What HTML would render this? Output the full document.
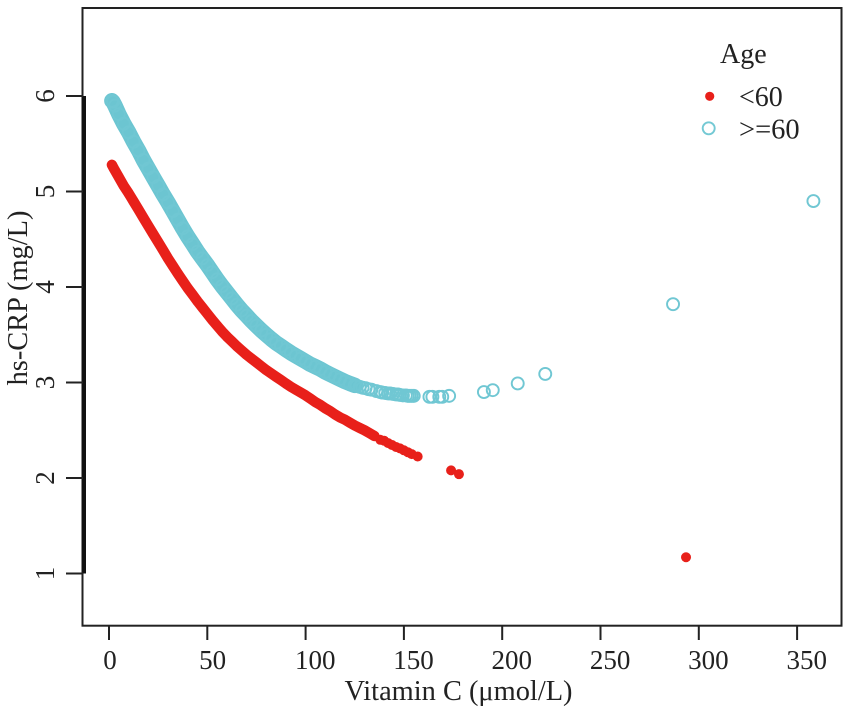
<!DOCTYPE html>
<html lang="en">
<head>
<meta charset="utf-8">
<title>hs-CRP vs Vitamin C by Age</title>
<style>
html,body{margin:0;padding:0;background:#fff;}
svg{display:block;font-family:"Liberation Serif",serif;fill:#222;}
</style>
</head>
<body>
<svg id="chart" width="850" height="714" viewBox="0 0 850 714" xmlns="http://www.w3.org/2000/svg">
  <rect x="0" y="0" width="850" height="714" fill="#fff"/>
  <g id="marks"></g>
  <rect x="82.5" y="8" width="759" height="617.7" fill="none" stroke="#222" stroke-width="2"/>
  <g id="xaxis"></g>
  <g id="yaxis"></g>
  <text x="458.5" y="700" text-anchor="middle" font-size="28.4">Vitamin C (μmol/L)</text>
  <text transform="translate(27,298) rotate(-90)" text-anchor="middle" font-size="28.4">hs-CRP (mg/L)</text>
  <g>
    <text x="720" y="63" font-size="28">Age</text>
    <circle cx="709.7" cy="96.3" r="4.6" fill="#e8201a"/>
    <text x="739" y="106" font-size="28">&lt;60</text>
    <circle cx="708.7" cy="128.3" r="6" fill="none" stroke="#74c9d4" stroke-width="1.9"/>
    <text x="739" y="138.7" font-size="28.5">&gt;=60</text>
  </g>
</svg>
<script>
const xTicks = [0, 50, 100, 150, 200, 250, 300, 350];
const yTicks = [1, 2, 3, 4, 5, 6];

const under60X = [1.5,2.5,5,7.5,10,12.5,15,17.5,20,22.5,25,27.5,30,32.5,35,37.5,40,42.5,45,47.5,50,52.5,55,57.5,60,62.5,65,67.5,70,72.5,75,77.5,80,82.5,85,87.5,90,92.5,95,97.5,100,102.5,105,107.5,110,112.5,115,117.5,120,122.5,125,127.5,130,132.5,135,138,140,142,144,146,148,150,152,154,157,174,178,293.5];
const under60Y = [5.28,5.24,5.15,5.06,4.98,4.895,4.81,4.725,4.64,4.555,4.47,4.385,4.30,4.22,4.14,4.065,3.99,3.92,3.85,3.785,3.72,3.655,3.595,3.535,3.48,3.43,3.38,3.335,3.29,3.25,3.21,3.17,3.13,3.095,3.06,3.025,2.99,2.955,2.925,2.895,2.865,2.83,2.795,2.765,2.73,2.70,2.665,2.635,2.61,2.58,2.55,2.525,2.50,2.47,2.44,2.40,2.39,2.365,2.345,2.325,2.31,2.29,2.27,2.25,2.225,2.08,2.04,1.17];

const over60X = [1.5,2,3,5,7.5,10,12.5,15,17.5,20,22.5,25,27.5,30,32.5,35,37.5,40,42.5,45,47.5,50,52.5,55,57.5,60,62.5,65,67.5,70,72.5,75,77.5,80,82.5,85,87.5,90,92.5,95,97.5,100,102.5,105,107.5,110,112.5,115,117.5,120,122.5,125,126,127.5,129,130.5,132,133.5,136,138,139,140.5,142,143,144.5,146,147,148,149.5,151,152,153,154,155,163,164.5,168,169.5,173,190.7,195.2,207.9,221.9,286.9,358.3];
const over60Y = [5.95,5.94,5.9,5.81,5.71,5.62,5.52,5.43,5.33,5.24,5.15,5.06,4.97,4.885,4.795,4.705,4.615,4.53,4.45,4.37,4.30,4.23,4.155,4.08,4.01,3.945,3.88,3.815,3.755,3.70,3.645,3.595,3.545,3.50,3.455,3.415,3.38,3.345,3.31,3.28,3.25,3.22,3.19,3.165,3.14,3.11,3.085,3.06,3.035,3.01,2.99,2.97,2.965,2.955,2.945,2.94,2.93,2.925,2.91,2.90,2.895,2.89,2.885,2.885,2.88,2.875,2.875,2.87,2.865,2.865,2.86,2.86,2.86,2.86,2.85,2.85,2.85,2.85,2.86,2.90,2.92,2.99,3.09,3.82,4.90];

const NS = 'http://www.w3.org/2000/svg';
const xScale = v => 109 + 1.966 * v;
const yScale = v => 573.5 - (v - 1) * 95.5;

function make(tag, attrs, parent) {
  const el = document.createElementNS(NS, tag);
  for (const k in attrs) el.setAttribute(k, attrs[k]);
  parent.appendChild(el);
  return el;
}

const marks = document.getElementById('marks');
const xAxis = document.getElementById('xaxis');
const yAxis = document.getElementById('yaxis');

// dense stretches of overlapping points read as a solid band
function drawBand(xs, ys, end, color, width, label) {
  const pts = [];
  xs.forEach((x, i) => { if (x <= end) pts.push(xScale(x).toFixed(1) + ',' + yScale(ys[i]).toFixed(1)); });
  const line = make('polyline', {points: pts.join(' '), fill: 'none', stroke: color, 'stroke-width': width, 'stroke-linecap': 'round', 'stroke-linejoin': 'round'}, marks);
  
  
}

drawBand(over60X, over60Y, 125, '#6cc5d1', 15.5, 'age-60-plus-dense-band');
over60X.forEach((x, i) => {
  const c = make('circle', {cx: xScale(x), cy: yScale(over60Y[i]), r: 6, fill: 'none', stroke: '#70c7d3', 'stroke-width': 1.9}, marks);
  
  
});

drawBand(under60X, under60Y, 135, '#e8201a', 10.4, 'age-under-60-dense-band');
under60X.forEach((x, i) => {
  const c = make('circle', {cx: xScale(x), cy: yScale(under60Y[i]), r: 5, fill: '#e8201a'}, marks);
  
  
});

xTicks.forEach(v => {
  const px = xScale(v);
  const t = make('line', {x1: px, x2: px, y1: 625.7, y2: 640, stroke: '#222', 'stroke-width': 2}, xAxis);
  
  
  const s = String(v);
  const l = make('text', {x: px + 1 + (s.length - 1) * 4.3, y: 669, 'text-anchor': 'middle', 'font-size': 27}, xAxis);
  l.textContent = s;
  
  
});

const spine = make('line', {x1: 83.8, x2: 83.8, y1: yScale(yTicks[yTicks.length - 1]), y2: yScale(yTicks[0]), stroke: '#111', 'stroke-width': 4.4}, yAxis);



yTicks.forEach(v => {
  const py = yScale(v);
  const t = make('line', {x1: 66, x2: 83, y1: py, y2: py, stroke: '#222', 'stroke-width': 2}, yAxis);
  
  
  const l = make('text', {transform: 'translate(54,' + py + ') rotate(-90)', 'text-anchor': 'middle', 'font-size': 27}, yAxis);
  l.textContent = String(v);
  
  
});
</script>
</body>
</html>
